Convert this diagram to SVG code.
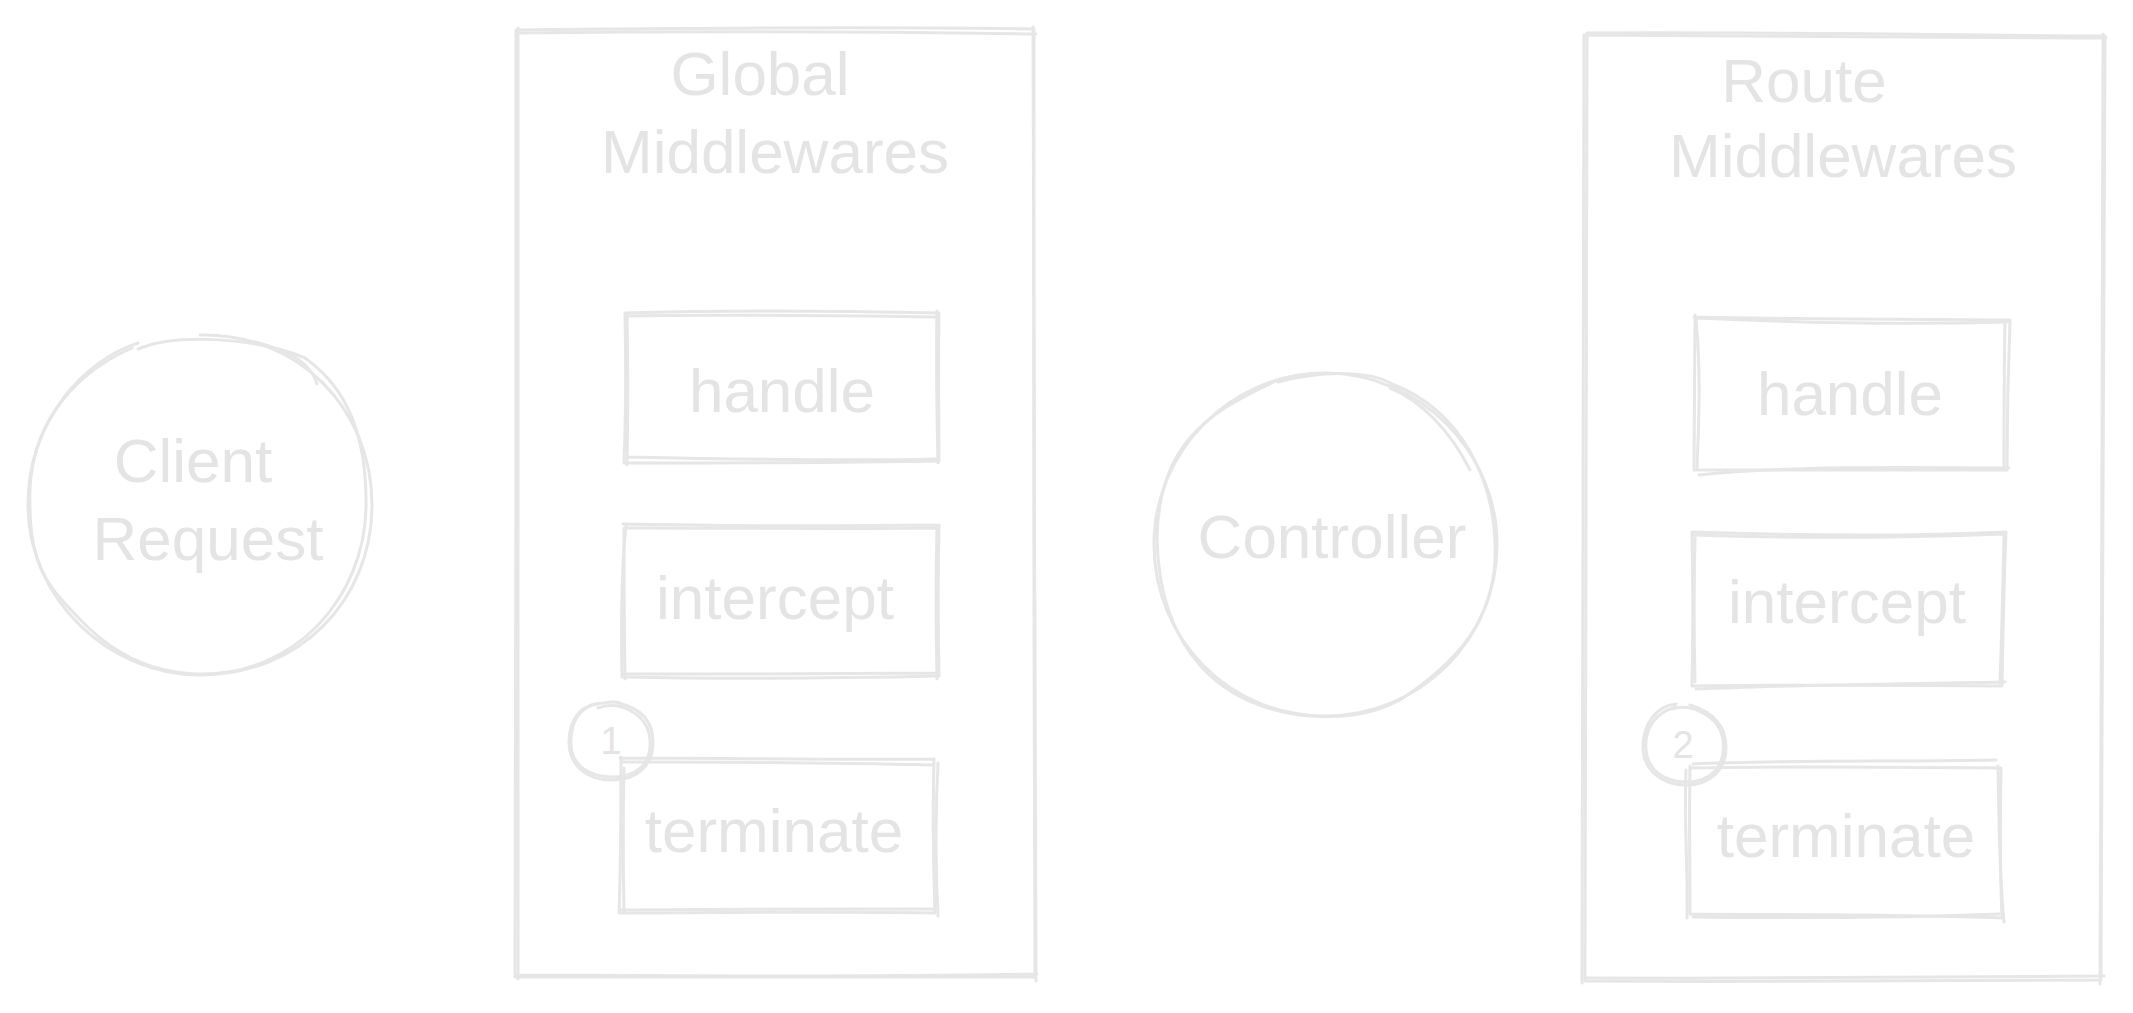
<svg xmlns="http://www.w3.org/2000/svg" width="2133" height="1013" viewBox="0 0 2133 1013">
<style>
.s{fill:none;stroke:#e6e6e6;stroke-width:3;stroke-linecap:round;stroke-linejoin:round}
.t{fill:#e4e4e4;font-family:"Liberation Sans","DejaVu Sans",sans-serif;font-size:62px;text-anchor:middle}
.n{fill:#e4e4e4;font-family:"Liberation Sans","DejaVu Sans",sans-serif;font-size:38px;text-anchor:middle}
</style>
<rect width="2133" height="1013" fill="#ffffff"/>
<g id="client-request">
<path class="s" d="M200 335 C300 333 372 410 372 505 C372 600 300 675 200 675 C110 675 28 600 28 505 C28 420 85 360 138 343"/>
<path class="s" d="M138 349 C175 333 255 337 305 358 C350 390 367 440 366 508 C364 598 295 676 198 674 C125 672 88 630 55 592 C32 562 29 530 30 488 C34 415 82 370 132 348 M255 342 C295 352 312 366 317 384"/>
<text class="t" x="193" y="482">Client</text>
<text class="t" x="208" y="560">Request</text>
</g>
<g id="global-middlewares">
<path class="s" d="M516 30 C700 28 900 27 1034 29 M1034 29 C1033 300 1034 700 1035 977 M1035 977 C800 976 600 977 515 977 M515 977 C516 700 516 300 516 30"/>
<path class="s" d="M518 33 C700 31 900 32 1036 34 M1033 27 C1034 300 1035 700 1036 981 M1037 974 C800 978 600 975 517 975 M518 979 C518 700 518 300 518 28"/>
<text class="t" x="760" y="95">Global</text>
<text class="t" x="775" y="173">Middlewares</text>
</g>
<g id="global-handle">
<path class="s" d="M625 313 C720 310 850 311 939 313 M939 313 C938 360 939 420 939 461 M939 461 C850 463 720 463 624 463 M624 463 C626 410 626 360 625 313"/>
<path class="s" d="M627 316 C720 314 850 316 937 317 M937 311 C936 360 937 420 938 463 M936 459 C850 461 720 459 628 457 M627 465 C628 410 628 360 627 314"/>
<text class="t" x="782" y="412">handle</text>
</g>
<g id="global-intercept">
<path class="s" d="M623 524 C720 526 850 526 939 525 M939 525 C938 570 938 630 939 676 M939 676 C850 678 720 679 622 677 M622 677 C621 620 621 570 626 526"/>
<path class="s" d="M626 528 C720 528 850 529 936 528 M937 530 C936 570 936 630 937 679 M936 673 C850 674 720 674 624 674 M625 679 C624 620 624 570 624 528"/>
<text class="t" x="775" y="619">intercept</text>
</g>
<g id="global-terminate">
<path class="s" d="M620 758 C720 758 850 760 934 759 M934 759 C933 800 933 860 935 913 M935 913 C850 911 720 913 619 913 M619 913 C621 860 621 810 621 757"/>
<path class="s" d="M622 762 C720 762 850 763 932 765 M938 763 C936 800 935 860 938 916 M933 909 C850 909 720 909 621 910 M624 913 C623 860 623 810 624 768"/>
<text class="t" x="774" y="852">terminate</text>
</g>
<g id="badge-1">
<path class="s" d="M618 703 C640 708 653 720 653 742 C653 765 638 780 612 780 C586 780 569 765 569 742 C569 718 582 703 604 703 C614 701 622 702 623 706"/>
<path class="s" d="M598 708 C620 700 648 714 650 740 C652 765 635 778 610 777 C588 776 572 765 571 745 C570 722 580 706 598 704"/>
<text class="n" x="611" y="754">1</text>
</g>
<g id="controller">
<path class="s" d="M1325 373 C1420 373 1497 452 1497 544 C1497 640 1420 716 1325 716 C1230 716 1154 640 1154 544 C1154 452 1230 373 1325 373"/>
<path class="s" d="M1278 382 C1330 368 1375 373 1392 384 C1460 410 1498 480 1495 560 C1492 620 1460 660 1400 700 C1370 716 1340 718 1310 716 C1220 708 1160 650 1157 540 C1158 450 1200 415 1278 380 M1390 388 C1420 400 1450 430 1470 470"/>
<text class="t" x="1332" y="558">Controller</text>
</g>
<g id="route-middlewares">
<path class="s" d="M1587 33 C1800 32 1950 35 2105 36 M2105 36 C2104 300 2102 700 2101 980 M2101 980 C1900 982 1750 982 1585 981 M1585 981 C1586 700 1586 300 1587 33"/>
<path class="s" d="M1584 35 C1800 37 1950 38 2106 38 M2103 34 C2103 300 2101 700 2100 984 M2104 976 C1900 978 1750 979 1587 978 M1582 983 C1583 700 1583 300 1584 36"/>
<text class="t" x="1804" y="102">Route</text>
<text class="t" x="1843" y="177">Middlewares</text>
</g>
<g id="route-handle">
<path class="s" d="M1694 317 C1780 319 1900 319 2010 320 M2010 320 C2008 370 2007 420 2007 470 M2007 470 C1900 470 1780 470 1694 470 M1694 470 C1694 420 1695 370 1695 315"/>
<path class="s" d="M1697 318 C1780 322 1900 325 2007 322 M2005 322 C2004 370 2004 420 2004 468 M2009 468 C1900 467 1780 466 1699 475 M1697 468 C1699 420 1701 370 1696 320"/>
<text class="t" x="1850" y="415">handle</text>
</g>
<g id="route-intercept">
<path class="s" d="M1692 532 C1780 535 1900 537 2006 532 M2006 532 C2004 580 2003 630 2002 686 M2002 686 C1900 685 1780 685 1692 686 M1692 686 C1693 640 1693 580 1692 532"/>
<path class="s" d="M1694 535 C1780 538 1900 538 2004 534 M2004 536 C2003 580 2002 630 2000 683 M2005 682 C1900 684 1780 685 1696 689 M1695 682 C1694 640 1694 580 1695 538"/>
<text class="t" x="1847" y="623">intercept</text>
</g>
<g id="route-terminate">
<path class="s" d="M1690 768 C1780 766 1900 767 2001 768 M2001 768 C2000 820 2000 870 2002 918 M2002 918 C1900 914 1780 915 1690 914 M1690 914 C1690 870 1689 820 1690 766"/>
<path class="s" d="M1693 764 C1780 760 1900 762 1996 760 M1998 766 C1999 820 1999 870 2004 922 M1999 914 C1900 918 1780 918 1693 917 M1687 918 C1688 870 1684 820 1686 770"/>
<text class="t" x="1846" y="857">terminate</text>
</g>
<g id="badge-2">
<path class="s" d="M1690 705 C1712 712 1726 725 1726 747 C1726 770 1710 785 1686 785 C1662 785 1643 770 1643 747 C1643 724 1656 706 1676 704"/>
<path class="s" d="M1672 709 C1690 702 1720 716 1723 740 C1726 765 1712 782 1686 782 C1664 782 1648 770 1646 750 C1644 728 1656 712 1676 707"/>
<text class="n" x="1683" y="758">2</text>
</g>
<g id="connectors"></g>
</svg>
